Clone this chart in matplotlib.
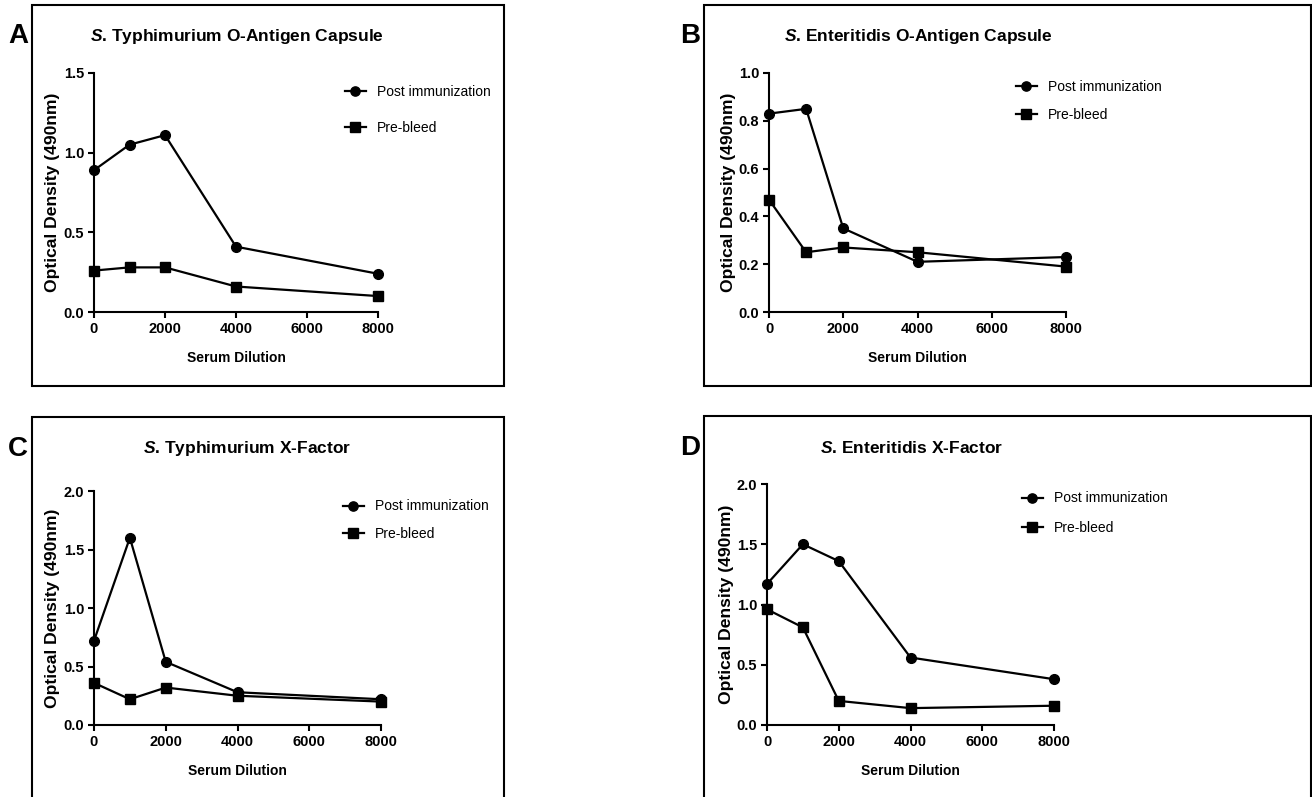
import matplotlib
matplotlib.use("Agg")
import matplotlib.pyplot as plt
from matplotlib.patches import Rectangle

plt.rcParams["font.family"] = ["Liberation Sans", "DejaVu Sans"]
plt.rcParams["mathtext.fontset"] = "custom"
plt.rcParams["mathtext.bfit"] = "Liberation Sans:italic:bold"
plt.rcParams["mathtext.bf"] = "Liberation Sans:bold"
plt.rcParams["mathtext.it"] = "Liberation Sans:italic"
plt.rcParams["mathtext.rm"] = "Liberation Sans"

# ── data ────────────────────────────────────────────────────────────
dilution = [0, 1000, 2000, 4000, 8000]
x_ticks = [0, 2000, 4000, 6000, 8000]

a_post = [0.89, 1.05, 1.11, 0.41, 0.24]
a_pre = [0.26, 0.28, 0.28, 0.16, 0.10]

b_post = [0.83, 0.85, 0.35, 0.21, 0.23]
b_pre = [0.47, 0.25, 0.27, 0.25, 0.19]

c_post = [0.72, 1.60, 0.54, 0.28, 0.22]
c_pre = [0.36, 0.22, 0.32, 0.25, 0.20]

d_post = [1.17, 1.50, 1.36, 0.56, 0.38]
d_pre = [0.96, 0.81, 0.20, 0.14, 0.16]

titles = ["Typhimurium O-Antigen Capsule", "Enteritidis O-Antigen Capsule",
          "Typhimurium X-Factor", "Enteritidis X-Factor"]
panel_letters = ["A", "B", "C", "D"]
y_ticks = [[0.0, 0.5, 1.0, 1.5],
           [0.0, 0.2, 0.4, 0.6, 0.8, 1.0],
           [0.0, 0.5, 1.0, 1.5, 2.0],
           [0.0, 0.5, 1.0, 1.5, 2.0]]
post_series = [a_post, b_post, c_post, d_post]
pre_series = [a_pre, b_pre, c_pre, d_pre]

W, H = 1312, 797


def px_rect(left, top, right, bottom):
    """pixel box (top-left origin) -> figure fraction [l, b, w, h]"""
    return [left / W, 1 - bottom / H, (right - left) / W, (bottom - top) / H]


# axes boxes, frame boxes, title centres, letter pos, legend anchor, row gap
axes_px = [(94, 73, 378, 312), (769, 73, 1066, 312),
           (94, 491, 381, 725), (767, 484, 1054, 725)]
frames_px = [(32, 5, 504, 386), (704, 5, 1311, 386),
             (32, 417, 504, 805), (704, 416, 1311, 805)]
title_px = [(237, 37), (918, 37), (247, 448), (912, 448)]
letter_px = [(18, 36), (690, 36), (18, 449), (690, 448)]
legend_px = [(345, 110), (1016, 101), (343, 520), (1022, 513)]
legend_gap = [1.6, 1.0, 0.95, 1.1]

fig = plt.figure(figsize=(W / 100, H / 100), dpi=100)

for i in range(4):
    # panel frame
    l, t, r, b = frames_px[i]
    fig.patches.append(Rectangle((l / W, 1 - b / H), (r - l) / W, (b - t) / H,
                                 transform=fig.transFigure, fill=False,
                                 edgecolor="black", linewidth=1.5))

    ax = fig.add_axes(px_rect(*axes_px[i]))
    ax.plot(dilution, post_series[i], color="black", linewidth=1.6,
            marker="o", markersize=7, label="Post immunization", clip_on=False,
            zorder=3)
    ax.plot(dilution, pre_series[i], color="black", linewidth=1.6,
            marker="s", markersize=7, label="Pre-bleed", clip_on=False,
            zorder=3)

    ax.set_xlim(0, 8000)
    ax.set_ylim(y_ticks[i][0], y_ticks[i][-1])
    ax.set_xticks(x_ticks)
    ax.set_yticks(y_ticks[i])
    ax.set_yticklabels([f"{v:.1f}" for v in y_ticks[i]])
    for side in ("top", "right"):
        ax.spines[side].set_visible(False)
    for side in ("left", "bottom"):
        ax.spines[side].set_linewidth(1.5)
    ax.tick_params(direction="out", length=4, width=1.5, labelsize=10.5,
                   pad=3)
    for lab in ax.get_xticklabels() + ax.get_yticklabels():
        lab.set_fontweight("bold")

    ax.set_xlabel("Serum Dilution", fontsize=10, fontweight="bold",
                  va="center")
    ax.set_ylabel("Optical Density (490nm)", fontsize=12.6, fontweight="bold",
                  va="center")
    axl, axt, axr, axb = axes_px[i]
    ax.xaxis.set_label_coords(0.5, -46 / (axb - axt))
    ax.yaxis.set_label_coords(-41 / (axr - axl), 0.5)

    # title with italic genus initial
    tx, ty = title_px[i]
    fig.text(tx / W, 1 - ty / H, r"$\mathbfit{S}$. " + titles[i],
             ha="center", va="center", fontsize=12.5, fontweight="bold")

    lx, ly = letter_px[i]
    fig.text(lx / W, 1 - ly / H, panel_letters[i], ha="center", va="center",
             fontsize=20, fontweight="bold")

    gx, gy = legend_px[i]
    ax.legend(loc="center left", bbox_to_anchor=(gx / W, 1 - gy / H),
              bbox_transform=fig.transFigure, frameon=False, fontsize=10,
              handlelength=1.5, handletextpad=0.8, borderpad=0,
              borderaxespad=0, labelspacing=legend_gap[i], markerscale=0.95)

fig.savefig("out.png", dpi=100)
